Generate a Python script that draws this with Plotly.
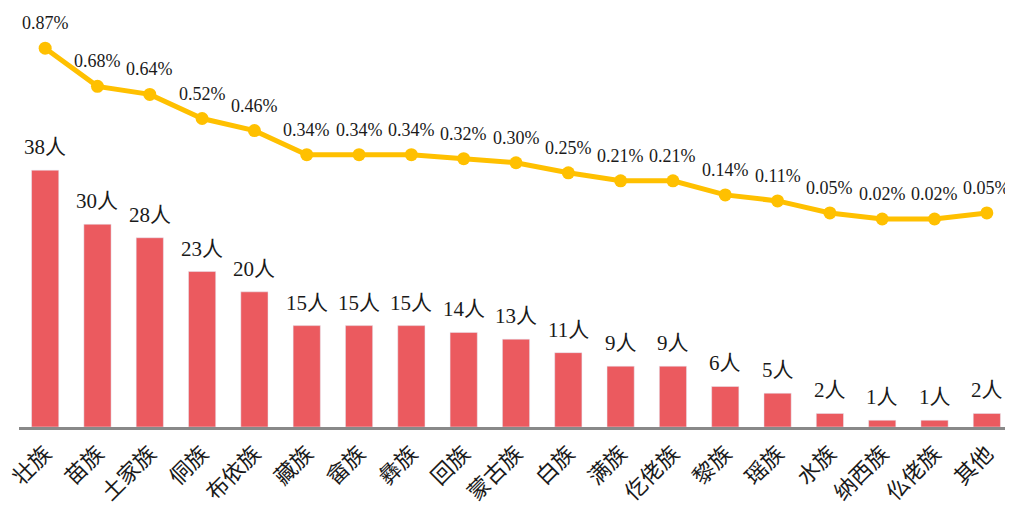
import plotly.graph_objects as go

groups = ["壮族", "苗族", "土家族", "侗族", "布依族", "藏族", "畲族", "彝族", "回族", "蒙古族",
          "白族", "满族", "仡佬族", "黎族", "瑶族", "水族", "纳西族", "仫佬族", "其他"]
people = [38, 30, 28, 23, 20, 15, 15, 15, 14, 13, 11, 9, 9, 6, 5, 2, 1, 1, 2]
share = [0.87, 0.68, 0.64, 0.52, 0.46, 0.34, 0.34, 0.34, 0.32, 0.30, 0.25, 0.21, 0.21,
         0.14, 0.11, 0.05, 0.02, 0.02, 0.05]

FONT = "Times New Roman, Liberation Serif, Noto Sans CJK SC, serif"

fig = go.Figure()

fig.add_bar(
    x=groups, y=people,
    marker=dict(color="#EB5A5F"),
    width=0.52,
    hoverinfo="skip",
)

fig.add_scatter(
    x=groups, y=share,
    yaxis="y2",
    mode="lines+markers",
    line=dict(color="#FFC000", width=5),
    marker=dict(color="#FFC000", size=13),
    hoverinfo="skip",
)

for g, p in zip(groups, people):
    fig.add_annotation(
        x=g, y=p, yref="y", text=f"{p}人", showarrow=False,
        yshift=23, font=dict(family=FONT, size=21, color="#1a1a1a"),
    )

for g, s in zip(groups, share):
    fig.add_annotation(
        x=g, y=s, yref="y2", text=f"{s:.2f}%", showarrow=False,
        yshift=25, font=dict(family=FONT, size=18, color="#1a1a1a"),
    )

# page body adds 8px margin, so the figure is sized/offset to compensate
fig.update_layout(
    width=1005, height=499,
    margin=dict(l=11, r=0, t=2, b=80),
    plot_bgcolor="white",
    paper_bgcolor="white",
    showlegend=False,
    font=dict(family=FONT, color="#1a1a1a"),
    xaxis=dict(
        tickangle=-45,
        tickfont=dict(family=FONT, size=22, color="#1a1a1a"),
        ticklabelstandoff=2,
        showline=True, linecolor="#898989", linewidth=3,
        showgrid=False, ticks="",
        range=[-0.5, 18.5],
        automargin=False,
    ),
    yaxis=dict(range=[0, 61.7], visible=False, showgrid=False),
    yaxis2=dict(range=[-1.015, 1.06], overlaying="y", visible=False, showgrid=False),
)

fig.write_html("out.html")
